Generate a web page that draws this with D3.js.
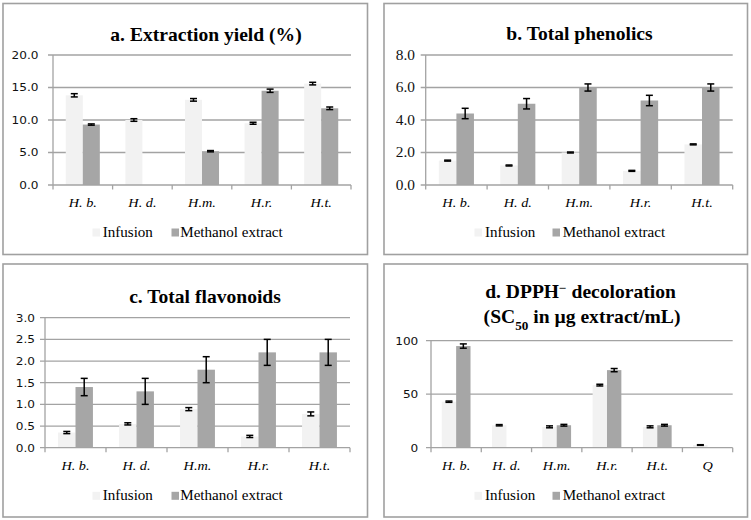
<!DOCTYPE html>
<html><head><meta charset="utf-8">
<script src="https://cdn.jsdelivr.net/npm/d3@7"></script>
<style>
body{margin:0;background:#fff}svg{display:block}
.serif{font-family:"Liberation Serif","Times New Roman",serif}
.sans{font-family:"DejaVu Sans",Verdana,sans-serif}
</style>
</head><body><svg id="c" width="751" height="520"></svg>
<script>
// ---- data ----
const categories = ["H. b.", "H. d.", "H.m.", "H.r.", "H.t."];
const categoriesD = ["H. b.", "H. d.", "H.m.", "H.r.", "H.t.", "Q"];
const seriesNames = ["Infusion", "Methanol extract"];

const yieldInfusion = [13.8, 10.0, 13.1, 9.5, 15.6];
const yieldInfusionErr = [0.25, 0.2, 0.2, 0.15, 0.2];
const yieldMethanol = [9.3, null, 5.2, 14.5, 11.8];
const yieldMethanolErr = [0.1, null, 0.1, 0.25, 0.2];
const yieldTicks = [0, 5, 10, 15, 20];

const phenInfusion = [1.5, 1.2, 2.0, 0.87, 2.5];
const phenInfusionErr = [0.03, 0.03, 0.03, 0.03, 0.03];
const phenMethanol = [4.4, 5.0, 6.0, 5.2, 6.0];
const phenMethanolErr = [0.32, 0.32, 0.22, 0.32, 0.22];
const phenTicks = [0, 2, 4, 6, 8];

const flavInfusion = [0.35, 0.55, 0.89, 0.26, 0.78];
const flavInfusionErr = [0.025, 0.025, 0.035, 0.025, 0.045];
const flavMethanol = [1.4, 1.3, 1.8, 2.2, 2.2];
const flavMethanolErr = [0.2, 0.3, 0.3, 0.3, 0.3];
const flavTicks = [0, 0.5, 1.0, 1.5, 2.0, 2.5, 3.0];

const dpphInfusion = [43, 21, 19.5, 58.5, 19.5, 2.5];
const dpphInfusionErr = [0.6, 0.6, 0.9, 0.8, 0.9, 0.3];
const dpphMethanol = [95, null, 21, 72.5, 21, null];
const dpphMethanolErr = [2.0, null, 0.8, 1.5, 0.8, null];
const dpphTicks = [0, 50, 100];

// ---- styling ----
const SX = 1.1;
const colInf = "#f2f2f2", colMeth = "#a6a6a6", colGrid = "#a3a3a3", colBorder = "#a0a0a0";

const svg = d3.select("#c");

function txt(g, x, y, s, o) {
  const t = g.append("text")
    .attr("class", o.cls || "serif")
    .attr("transform", `translate(${x},${y}) scale(${SX},1)`)
    .style("font-size", o.size + "px")
    .style("font-weight", o.weight || "normal")
    .style("font-style", o.style || "normal")
    .attr("text-anchor", o.anchor || "start")
    .attr("fill", o.fill || "#000");
  if (o.dy) t.attr("dy", o.dy);
  if (typeof s === "string") t.text(s);
  else s.forEach(p => {
    const ts = t.append("tspan").text(p.t);
    if (p.shift) ts.attr("baseline-shift", p.shift);
    if (p.size) ts.style("font-size", p.size + "px");
  });
  return t;
}

function panel(c) {
  const g = svg.append("g");
  g.append("rect").attr("x", c.box[0]).attr("y", c.box[1])
    .attr("width", c.box[2] - c.box[0]).attr("height", c.box[3] - c.box[1])
    .attr("fill", "#fff").attr("stroke", colBorder).attr("stroke-width", 1.6);

  const x = d3.scaleBand().domain(c.cats).range([c.left, c.right]).paddingInner(0).paddingOuter(0);
  const xs = d3.scaleBand().domain(seriesNames).range([0, x.bandwidth()]).paddingInner(0).paddingOuter(0.75);
  const y = d3.scaleLinear().domain([c.ticks[0], c.ticks[c.ticks.length - 1]]).range([c.bottom, c.top]);

  c.ticks.forEach(v => {
    if (v !== c.ticks[0]) g.append("line").attr("x1", c.left - 5).attr("x2", c.right)
      .attr("y1", y(v)).attr("y2", y(v)).attr("stroke", colGrid).attr("stroke-width", 1.3);
    txt(g, c.tickRight, y(v), c.fmt(v), {cls: c.tickCls, size: c.tickSize, anchor: "end", dy: "0.35em", fill: "#111"});
  });

  const series = [
    {name: seriesNames[0], vals: c.inf, errs: c.infErr, col: colInf},
    {name: seriesNames[1], vals: c.meth, errs: c.methErr, col: colMeth}
  ];
  series.forEach(s => {
    g.selectAll(null).data(c.cats.map((k, i) => ({k, v: s.vals[i], e: s.errs[i]})).filter(d => d.v != null))
      .enter().append("rect")
      .attr("x", d => x(d.k) + xs(s.name)).attr("width", xs.bandwidth())
      .attr("y", d => y(d.v)).attr("height", d => y(0) - y(d.v))
      .attr("fill", s.col);
  });
  series.forEach(s => {
    c.cats.forEach((k, i) => {
      const v = s.vals[i], e = s.errs[i];
      if (v == null) return;
      const cx = x(k) + xs(s.name) + xs.bandwidth() / 2;
      const eg = g.append("g").attr("stroke", "#000").attr("stroke-width", 1.5);
      eg.append("line").attr("x1", cx).attr("x2", cx).attr("y1", y(v - e)).attr("y2", y(v + e));
      [v - e, v + e].forEach(w => eg.append("line").attr("x1", cx - 3.5).attr("x2", cx + 3.5).attr("y1", y(w)).attr("y2", y(w)));
    });
  });

  g.append("line").attr("x1", c.left).attr("x2", c.left).attr("y1", c.top).attr("y2", c.bottom)
    .attr("stroke", colGrid).attr("stroke-width", 1.3);
  g.append("line").attr("x1", c.left - 5).attr("x2", c.right).attr("y1", c.bottom).attr("y2", c.bottom)
    .attr("stroke", colGrid).attr("stroke-width", 1.3);
  const bounds = c.cats.map(k => x(k)).concat([c.right]);
  bounds.forEach(b => g.append("line").attr("x1", b).attr("x2", b).attr("y1", c.bottom).attr("y2", c.bottom + 4.5)
    .attr("stroke", colGrid).attr("stroke-width", 1.3));

  c.cats.forEach(k => txt(g, x(k) + x.bandwidth() / 2, c.xLabelY, k, {size: 13, style: "italic", anchor: "middle"}));

  c.title.forEach((line, i) => txt(g, c.titleX + (c.titleDX ? c.titleDX[i] : 0), c.titleY[i], line, {size: 17.8, weight: "bold", anchor: "middle"}));

  const L = c.legend;
  [[L[0], L[1], colInf, seriesNames[0]], [L[2], L[3], colMeth, seriesNames[1]]].forEach(([sx, tx, col, name]) => {
    g.append("rect").attr("x", sx).attr("y", c.legendY - 8.5).attr("width", 7.5).attr("height", 8)
      .attr("fill", col);
    txt(g, tx, c.legendY, name, {size: 13.7});
  });
}

const f1 = d3.format(".1f");

panel({box: [3, 3.5, 367.5, 254.5], left: 53, right: 351, top: 55, bottom: 185,
  cats: categories, inf: yieldInfusion, infErr: yieldInfusionErr, meth: yieldMethanol, methErr: yieldMethanolErr,
  ticks: yieldTicks, fmt: f1, tickCls: "sans", tickSize: 11, tickRight: 38.5,
  title: ["a. Extraction yield (%)"], titleX: 206, titleY: [40.7], xLabelY: 206.5,
  legend: [92.5, 102.7, 171.5, 180.3], legendY: 237});

panel({box: [384, 3.5, 747.5, 254.5], left: 425.7, right: 732.7, top: 55, bottom: 185,
  cats: categories, inf: phenInfusion, infErr: phenInfusionErr, meth: phenMethanol, methErr: phenMethanolErr,
  ticks: phenTicks, fmt: f1, tickCls: "serif", tickSize: 14, tickRight: 415,
  title: ["b. Total phenolics"], titleX: 579.5, titleY: [40], xLabelY: 206.5,
  legend: [474.5, 485, 552.5, 562.7], legendY: 237});

panel({box: [3, 264, 367.5, 517], left: 45, right: 350, top: 317.7, bottom: 447.7,
  cats: categories, inf: flavInfusion, infErr: flavInfusionErr, meth: flavMethanol, methErr: flavMethanolErr,
  ticks: flavTicks, fmt: f1, tickCls: "sans", tickSize: 11, tickRight: 35,
  title: ["c. Total flavonoids"], titleX: 205, titleY: [302.7], xLabelY: 470,
  legend: [92.5, 102.7, 171.5, 180.3], legendY: 500.3});

panel({box: [384, 264, 747.5, 517], left: 431, right: 732.7, top: 340.7, bottom: 447.7,
  cats: categoriesD, inf: dpphInfusion, infErr: dpphInfusionErr, meth: dpphMethanol, methErr: dpphMethanolErr,
  ticks: dpphTicks, fmt: d3.format("d"), tickCls: "sans", tickSize: 11, tickRight: 418.3,
  title: [
    [{t: "d. DPPH"}, {t: "−", shift: "super", size: 12}, {t: " decoloration"}],
    [{t: "(SC"}, {t: "50", shift: "sub", size: 12}, {t: " in µg extract/mL)"}]
  ], titleX: 580.5, titleDX: [0, 1.5], titleY: [298.3, 323.3], xLabelY: 470,
  legend: [474.5, 485, 552.5, 562.7], legendY: 500.3});
</script></body></html>
